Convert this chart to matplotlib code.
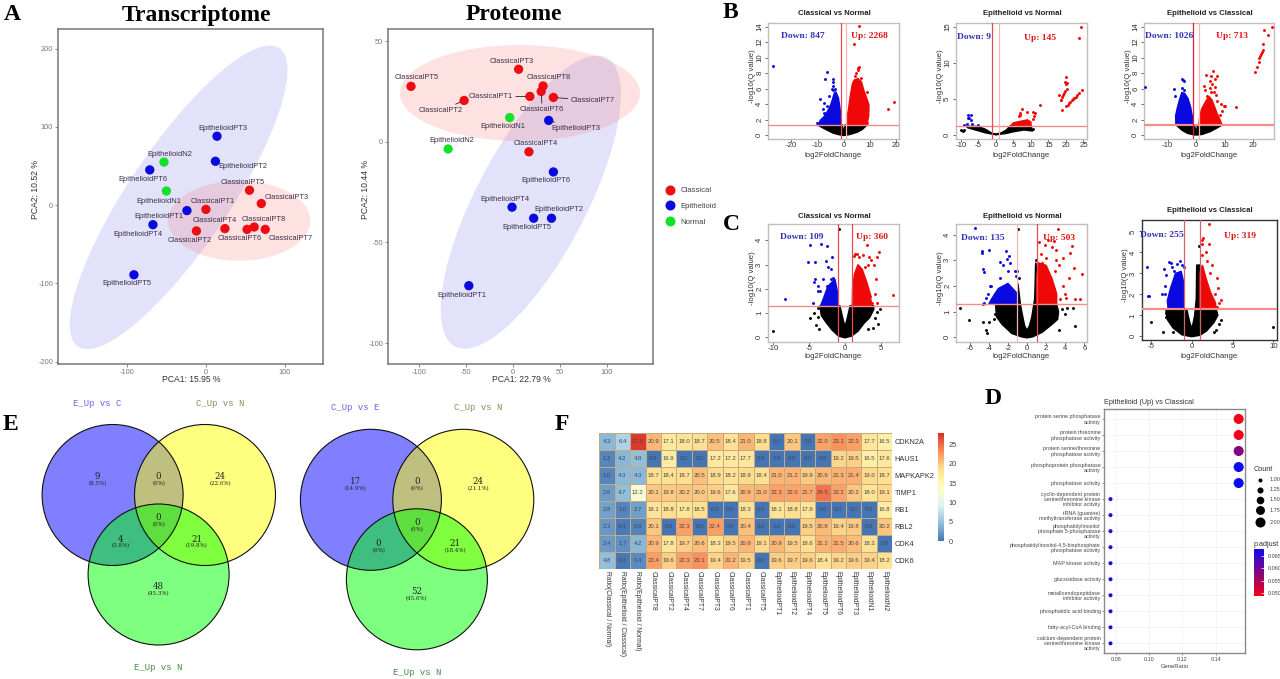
import numpy as np
import matplotlib
matplotlib.use('Agg')
import matplotlib.pyplot as plt
from matplotlib.colors import LinearSegmentedColormap
from matplotlib.lines import Line2D
from matplotlib.patches import Ellipse

plt.rcParams['font.family'] = ['Liberation Sans', 'DejaVu Sans']
plt.rcParams['axes.unicode_minus'] = False

W, H = 1280, 679

# === PCA data ===
pca_names = ['ClassicalPT1', 'ClassicalPT2', 'ClassicalPT3', 'ClassicalPT4', 'ClassicalPT5',
             'ClassicalPT6', 'ClassicalPT7', 'ClassicalPT8', 'EpithelioidPT1', 'EpithelioidPT2',
             'EpithelioidPT3', 'EpithelioidPT4', 'EpithelioidPT5', 'EpithelioidPT6',
             'EpithelioidN1', 'EpithelioidN2']
pca_group = ['C'] * 8 + ['E'] * 6 + ['N'] * 2
rna_x = [0, -12, 70, 24, 55, 52, 75, 61, -24, 12, 14, -67, -91, -71, -50, -53]
rna_y = [-5.5, -33, 2, -30, 19, -31, -31, -28, -7, 56, 88, -25, -89, 45, 18, 55]
prot_x = [18, -52, 6, 17, -108.5, 30, 43, 32, -47, 41, 38, -1, 22, 43, -3.5, -69]
prot_y = [22.5, 20.5, 36, -5, 27.5, 25, 22, 27.7, -71.5, -38, 10.6, -32.5, -38, -15, 12, -3.6]

# === Volcano data: dense clouds as outlines, plus single points ===
b1_black = [(-10, 1.3), (-.5, 1.3), (-.2, .6), (0, .3), (.2, .6), (.5, 1.3), (9, 1.3), (7, .7), (5, .35), (2, .05), (0, -.05), (-1.5, .03), (-4, .25), (-7, .75)]
b1_blue = [(-1, 1.3), (-1.1, 2.5), (-1.5, 3.7), (-2, 4.8), (-3, 5.6), (-3.6, 5.4), (-4.3, 4.6), (-5, 3.9), (-6, 3.2), (-7.5, 2.4), (-9, 1.9), (-9.8, 1.3)]
b1_red = [(1, 1.3), (1.3, 2.2), (1.9, 3.5), (2.5, 5), (3.3, 6.6), (4, 7.1), (5.5, 7.3), (6.8, 6.9), (7.8, 5.7), (9, 4.6), (9.7, 3.9), (9.6, 2.5), (8.9, 1.3)]
b1_blue_pts = [(-27, 8.9), (-6.4, 8.1), (-7, 7.3), (-4, 7.3), (-4.2, 6.8), (-4, 6.4), (-4.5, 6), (-4, 5.8), (-9, 4.7), (-7.5, 4.2), (-8, 3.4), (-6.5, 3.7), (-7.5, 2.8), (-10.3, 1.6), (-9.5, 1.5), (-5.5, 5.1), (-3.5, 6)]
b1_red_pts = [(5.7, 14.1), (4, 11.8), (5.8, 8.8), (5.3, 8.7), (5.5, 8.4), (4.8, 8), (17, 3.4), (19.2, 4.3), (9, 5.6), (8.8, 1.6), (6.7, 7.4), (4.2, 7.6)]
b1_black_pts = []

b2_black = [(-8.5, 1.2), (-5, 1.2), (-3, .8), (-1, .2), (0, .15), (1.5, .3), (3, .7), (4, 1.25), (6, 1.3), (10, 1.3), (10.5, .55), (8, .7), (5, .45), (3, .22), (0, .03), (-3, .3), (-8, 1)]
b2_blue = []
b2_red = [(4.2, 1.3), (5, 1.7), (7, 1.9), (9, 2.1), (10, 1.8), (10, 1.3)]
b2_blue_pts = [(-8, 2.8), (-7, 2.8), (-7.6, 2.4), (-8, 2.3), (-7, 2.1), (-6.7, 1.5), (-8.3, 1.5), (-5, 1.4), (-9, 1.4)]
b2_red_pts = [(7, 3), (7.5, 3.6), (7, 2.8), (6.5, 2.6), (9, 3.2), (10.5, 3.2), (11, 2.7), (10.5, 2.2), (11.2, 3), (12.5, 4.1), (24.3, 15), (23.8, 13.4), (19, 3.4), (20, 8), (19.8, 7.4), (19.9, 7), (20.2, 7.2), (18, 5.6), (18.5, 4.9), (24.6, 6.2),
              (18.6, 4.9), (18.9, 5.2), (19.2, 5.5), (19.5, 5.8), (19.8, 6.1), (20.2, 6.4),
              (20.1, 4), (20.5, 4.2), (20.9, 4.4), (21.2, 4.6), (21.6, 4.8), (22, 4.95), (22.4, 5.1), (22.8, 5.3), (23.2, 5.55), (23.6, 5.75)]
b2_black_pts = [(-10, .7), (-9.5, .6), (10.7, .8), (-9, .65)]

b3_black = [(-7, 1.3), (-.5, 1.3), (-.2, .6), (0, .3), (.2, .6), (.5, 1.3), (9.2, 1.3), (7, .85), (5, .45), (2, .08), (.5, .02), (-.5, .02), (-3, .22), (-5, .65)]
b3_blue = [(-1, 1.3), (-1.3, 2.4), (-1.9, 3.6), (-2.8, 4.7), (-4, 5.4), (-5, 5.5), (-5.8, 4.6), (-6.6, 3.5), (-7.2, 2.5), (-7.1, 1.3)]
b3_red = [(1, 1.3), (1.3, 2.5), (2, 3.4), (3, 4.1), (4.5, 5), (5.5, 4.6), (6.5, 3.7), (7.5, 2.7), (8.5, 1.9), (9.2, 1.3)]
b3_blue_pts = [(-18, 6.2), (-7.7, 5.9), (-5, 7.3), (-4.6, 7.1), (-4.3, 7), (-5, 6.1), (-4.4, 5.8), (-7.4, 5)]
b3_red_pts = [(6, 8.3), (3.4, 7.7), (5.4, 7.6), (7.3, 7.6), (6.5, 7.2), (5, 7), (5.6, 6.6), (4.8, 6.1), (6.5, 6.2), (2.9, 6.3), (3.2, 5.8), (5.2, 5.5), (6.3, 5.5), (7, 5.2), (4, 5), (7.2, 4.4), (8.7, 4), (9.8, 3.8), (10, 3.7), (9, 3.1), (8.5, 2.6), (14, 3.6),
              (26.6, 14), (25.4, 12.9), (24, 13.5), (20.6, 8.2), (21.3, 8.8), (22, 9.4), (22.3, 9.9), (22.6, 10.2), (22.9, 10.4), (23.2, 10.7), (23.4, 11), (23.7, 11.7)]
b3_black_pts = []

c1_black = [(-3.5, 1.3), (-3.3, .9), (-2.6, .6), (-1.8, .3), (-.9, .05), (0, -.02), (.9, .05), (1.8, .25), (2.7, .6), (3.4, .8), (4, 1.15), (4, 1.3), (.7, 1.3), (.4, .9), (.15, .6), (0, .5), (-.15, .6), (-.4, .9), (-.7, 1.3)]
c1_blue = [(-1, 1.3), (-1, 1.8), (-1.4, 2.4), (-2.4, 2.1), (-3, 1.6), (-3.4, 1.3)]
c1_red = [(1, 1.3), (1.05, 2), (1.3, 2.6), (1.8, 3), (2.4, 2.8), (3, 2.3), (3.5, 1.8), (3.7, 1.3)]
c1_blue_pts = [(-8.4, 1.6), (-4.8, 3.8), (-3.3, 3.85), (-2.5, 3.75), (-1.8, 3.3), (-2.6, 3.15), (-5.2, 3.1), (-4.2, 3.1), (-2.3, 2.9), (-2, 2.8), (-4.2, 2.4), (-4.3, 2.3), (-2, 2.4), (-1.6, 2.45), (-3, 2.4), (-3.7, 2.1), (-3.5, 1.9), (-3.8, 1.9), (-4.4, 1.4), (-2.5, 2.1)]
c1_red_pts = [(3, 3.8), (2.5, 3.4), (3.3, 3.3), (3.6, 3.2), (4.7, 3.5), (4.5, 3.3), (4, 3), (3.2, 3), (2.8, 2.9), (4.3, 2.4), (6.6, 1.75), (4.2, 1.8), (3.5, 1.7), (4.5, 1.4), (3.7, 1.4), (2, 3.3), (1.4, 3.45), (1.2, 3.35), (1.7, 3.45)]
c1_black_pts = [(-10, .25), (-.9, 4.45), (-4.3, 1), (-4.9, .8), (-4, .5), (-3.6, .35), (4.9, 1.15), (4.5, 1.05), (4.2, .8), (3.9, .4), (4.6, .55), (3.2, .35), (-3.8, 1.2), (-3.8, .85)]

c2_black = [(-3.3, 1.3), (-3.2, .8), (-2.6, .5), (-1.6, .15), (-.6, .02), (0, -.02), (.6, .02), (1.6, .2), (2.6, .5), (3.2, .7), (3.3, 1), (3.1, 1.28), (1, 1.28), (1, 2.5), (.9, 2.9), (.8, 1.5), (.5, .8), (.25, .45), (0, .27), (-.25, .45), (-.5, .9), (-.7, 1.3), (-.95, 2.1), (-1, 1.3)]
c2_blue = [(-1, 1.3), (-1, 1.7), (-2, 2.1), (-3, 1.9), (-3.7, 1.5), (-4, 1.3)]
c2_red = [(1, 1.3), (1, 2.3), (1.2, 2.9), (2, 2.8), (2.6, 2.3), (3.1, 1.7), (3.1, 1.3)]
c2_blue_pts = [(-5.4, 4.25), (-4.7, 3.35), (-4.75, 3.3), (-4, 3.4), (-2.2, 3.35), (-1.9, 3.15), (-2.1, 3.05), (-2.8, 2.95), (-1.8, 2.9), (-2.5, 2.8), (-1.3, 2.6), (-2, 2.6), (-1.2, 2.4), (-4.6, 2.65), (-4.5, 2.55), (-2.8, 2.3), (-3.8, 2), (-3.9, 2), (-4.1, 1.7), (-4.3, 1.55), (-4.5, 1.35), (-4.6, 1.3), (-3.3, 1.7)]
c2_red_pts = [(3.2, 4.2), (2.8, 3.75), (1.2, 3.7), (1.9, 3.6), (2.6, 3.5), (3, 3.4), (4.7, 3.55), (4.5, 3.3), (3.8, 3.1), (1.5, 3.25), (2, 3.1), (3.3, 2.8), (4.9, 2.7), (5.7, 2.45), (4.4, 2.3), (3.8, 2), (4, 1.7), (5, 1.5), (5.5, 1.5), (3.4, 1.5), (4.1, 1.55), (2.2, 3.8), (3, 3), (1.6, 2.9), (2.9, 2.6)]
c2_black_pts = [(-7, 1.15), (-6.1, .67), (-4.6, .6), (-4, .6), (-4.3, .3), (-4.2, .15), (5, .45), (4.8, 1.15), (4.2, 1.15), (3.7, 1.1), (4, .9), (3.3, .3), (-3.4, .9), (-3.5, .7), (-.8, 2.3), (-1, 2.6), (-.9, 4.2), (.9, 3)]

c3_black = [(-3.2, 1.3), (-3, .8), (-2.3, .4), (-1.2, .07), (0, -.02), (1, .05), (1.8, .25), (2.7, .65), (3.2, 1), (3, 1.3), (1, 1.3), (1, 3.4), (.6, 3.4), (.55, 1.8), (.35, 1), (.15, .6), (0, .4), (-.2, .6), (-.45, 1), (-.6, 1.3)]
c3_blue = [(-1, 1.3), (-1, 2.6), (-1.3, 3.1), (-2, 3), (-2.6, 2.3), (-3, 1.7), (-2.9, 1.3)]
c3_red = [(1, 1.3), (1, 3), (1.3, 3.4), (1.8, 2.7), (2.3, 2.1), (2.9, 1.6), (3, 1.3)]
c3_blue_pts = [(-5.5, 3.3), (-5.4, 1.9), (-5.2, 1.9), (-3.6, 2), (-3.3, 2), (-3.3, 2.4), (-3.4, 3.2), (-3.1, 2.9), (-2.8, 3.55), (-2.5, 3.5), (-2.4, 3.3), (-1.8, 3.45), (-1.5, 3.6), (-1.2, 3.4), (-1, 3.3), (-2.2, 3.1)]
c3_red_pts = [(2.1, 5.35), (1.4, 4.7), (1.2, 4.4), (2.1, 4.4), (1.7, 4), (1.2, 3.9), (1.9, 3.6), (2.5, 3.4), (3.1, 2.8), (2.2, 3), (3.6, 1.75), (3.3, 1.6), (3.2, 2.3), (3.1, 1.4), (2.8, 2), (1.3, 4.6)]
c3_black_pts = [(9.9, .45), (-5, .7), (-3.5, .22), (-3.1, 1.1), (-3.2, .9), (3.6, .8), (3, .3), (2.7, .2), (3.3, .6), (-2.3, .2), (.85, 4.3)]

volcano_titles = ['Classical vs Normal', 'Epithelioid vs Normal', 'Epithelioid vs Classical']
b_down = ['Down: 847', 'Down: 9', 'Down: 1026']
b_up = ['Up: 2268', 'Up: 145', 'Up: 713']
c_down = ['Down: 109', 'Down: 135', 'Down: 255']
c_up = ['Up: 360', 'Up: 503', 'Up: 319']

# === Venn counts ===
venn1_counts = ['9', '0', '24', '0', '4', '21', '48']
venn1_pcts = ['(8.5%)', '(0%)', '(22.6%)', '(0%)', '(3.8%)', '(19.8%)', '(45.3%)']
venn2_counts = ['17', '0', '24', '0', '0', '21', '52']
venn2_pcts = ['(14.9%)', '(0%)', '(21.1%)', '(0%)', '(0%)', '(18.4%)', '(45.6%)']

# === Heatmap values ===
heat_rows = ['CDKN2A', 'HAUS1', 'MAPKAPK2', 'TIMP1', 'RB1', 'RBL2', 'CDK4', 'CDK6']
heat_cols = ['Ratio(Classical / Normal)', 'Ratio(Epithelioid / Classical)', 'Ratio(Epithelioid / Normal)',
             'ClassicalPT8', 'ClassicalPT2', 'ClassicalPT4', 'ClassicalPT7', 'ClassicalPT3', 'ClassicalPT6',
             'ClassicalPT1', 'ClassicalPT5', 'EpithelioidPT1', 'EpithelioidPT2', 'EpithelioidPT4',
             'EpithelioidPT5', 'EpithelioidPT6', 'EpithelioidPT3', 'EpithelioidN1', 'EpithelioidN2']
cdkn2a = [4.3, 6.4, 27.5, 20.9, 17.1, 18.0, 18.7, 20.5, 18.4, 21.0, 18.8, 0.0, 20.1, 0.0, 22.0, 23.1, 22.3, 17.7, 16.5]
haus1 = [1.2, 4.2, 4.8, 0.0, 16.9, 0.0, 0.0, 17.2, 17.2, 17.7, 0.0, 0.0, 0.0, 0.0, 0.0, 19.2, 19.5, 16.5, 17.6]
mapkapk2 = [1.0, 4.3, 4.3, 18.7, 18.4, 18.7, 20.5, 18.9, 18.2, 18.9, 18.4, 21.0, 21.2, 19.9, 20.9, 21.3, 21.4, 19.0, 18.7]
timp1 = [2.6, 4.7, 12.2, 20.1, 19.8, 20.2, 20.0, 19.6, 17.6, 20.9, 21.0, 22.3, 22.0, 21.7, 24.5, 22.2, 20.2, 18.0, 19.1]
rb1 = [2.8, 1.0, 2.7, 18.1, 18.8, 17.8, 18.5, 0.0, 0.0, 18.3, 0.0, 18.1, 18.8, 17.9, 0.0, 0.0, 0.0, 0.0, 16.8]
rbl2 = [2.2, 0.4, 0.9, 20.1, 0.0, 22.3, 0.0, 22.4, 0.0, 20.4, 0.0, 0.0, 0.0, 19.5, 20.8, 19.4, 19.8, 0.0, 20.2]
cdk4 = [2.4, 1.7, 4.2, 20.9, 17.8, 19.7, 20.6, 18.3, 19.5, 20.9, 19.1, 20.9, 19.5, 18.6, 21.2, 21.5, 20.6, 18.3, 0.0]
cdk6 = [4.8, 0.3, 1.4, 22.4, 19.6, 22.3, 23.1, 19.4, 21.2, 19.5, 0.0, 19.6, 19.7, 19.6, 18.4, 19.2, 19.6, 19.4, 18.2]

# === GO dot plot ===
go_terms = ['protein serine phosphatase\nactivity', 'protein threonine\nphosphatase activity',
            'protein serine/threonine\nphosphatase activity', 'phosphoprotein phosphatase\nactivity',
            'phosphatase activity', 'cyclin-dependent protein\nserine/threonine kinase\ninhibitor activity',
            'tRNA (guanine)\nmethyltransferase activity', 'phosphatidylinositol\nphosphate 5-phosphatase\nactivity',
            'phosphatidylinositol-4,5-bisphosphate\nphosphatase activity', 'MAP kinase activity',
            'glucosidase activity', 'metalloendopeptidase\ninhibitor activity', 'phosphatidic acid binding',
            'fatty-acyl-CoA binding', 'calcium-dependent protein\nserine/threonine kinase\nactivity']
go_ratio = [0.1538] * 5 + [0.0769] * 10
go_count = [2] * 5 + [1] * 10
go_padj = [0.0487, 0.0487, 0.058, 0.0677, 0.0677] + [0.0677] * 10
count_levels = [1.00, 1.25, 1.50, 1.75, 2.00]

fig = plt.figure(figsize=(W / 100, H / 100), dpi=100, facecolor='white')


def px_axes(x0, y0, x1, y1):
    return fig.add_axes([x0 / W, 1 - y1 / H, (x1 - x0) / W, (y1 - y0) / H])


overlay = fig.add_axes([0, 0, 1, 1], zorder=20)
overlay.set_xlim(0, W)
overlay.set_ylim(H, 0)
overlay.axis('off')
overlay.patch.set_alpha(0)


def px_text(x, y, s, **kw):
    kw.setdefault('ha', 'center')
    kw.setdefault('va', 'center')
    overlay.text(x, y, s, **kw)


# --- panel letters and big titles
for letter, lx, ly in [('A', 12, 14), ('B', 730, 13), ('C', 731, 225), ('D', 993, 398), ('E', 10, 424), ('F', 562, 425)]:
    px_text(lx, ly, letter, family='Liberation Serif', fontweight='bold', fontsize=17)
px_text(196, 15, 'Transcriptome', family='Liberation Serif', fontweight='bold', fontsize=17)
px_text(514, 15, 'Proteome', family='Liberation Serif', fontweight='bold', fontsize=17)

group_colors = {'C': '#ee0c12', 'E': '#0a0ae0', 'N': '#14e02c'}
PINK, LAV = '#fb6a6a', '#6f6fe8'


def pca_panel(box, xlim, ylim, xs, ys, offsets, leaders, ell_blue, ell_red, xticks, yticks, xlab, ylab):
    ax = px_axes(*box)
    ax.set_xlim(xlim)
    ax.set_ylim(ylim)
    sx = (box[2] - box[0]) / (xlim[1] - xlim[0])
    sy = (box[3] - box[1]) / (ylim[1] - ylim[0])
    for (cx, cy, a, b, ang), col, alpha in [(ell_blue, LAV, 0.2), (ell_red, PINK, 0.2)]:
        t = np.linspace(0, 2 * np.pi, 200)
        th = np.radians(ang)
        ex = cx + (a * np.cos(t) * np.cos(th) - b * np.sin(t) * np.sin(th)) / sx
        ey = cy + (a * np.cos(t) * np.sin(th) + b * np.sin(t) * np.cos(th)) / sy
        ax.fill(ex, ey, color=col, alpha=alpha, lw=0)
    cols = [group_colors[g] for g in pca_group]
    ax.scatter(xs, ys, c=cols, s=45, lw=0, zorder=3)
    for i, name in enumerate(pca_names):
        arrow = dict(arrowstyle='-', lw=0.6, color='#222222', shrinkA=0, shrinkB=3) if name in leaders else None
        ax.annotate(name, (xs[i], ys[i]), xytext=offsets[i], textcoords='offset pixels', ha='center', va='center',
                    fontsize=5.4, color='#3a3048', arrowprops=arrow, zorder=4)
    ax.set_xticks(xticks)
    ax.set_yticks(yticks)
    ax.tick_params(labelsize=5.3, colors='#777777', length=2, width=0.6, pad=1.5)
    for s in ax.spines.values():
        s.set_color('#777777')
        s.set_linewidth(1.1)
    px_text((box[0] + box[2]) / 2 + 1, 380, xlab, fontsize=6.2, color='#333333')
    px_text(box[0] - 23, (box[1] + box[3]) / 2 - 7, ylab, fontsize=6.2, color='#333333', rotation=90)
    return ax


rna_off = [(7, 8), (-7, -10), (25, 6), (-10, 8), (-7, 8), (-7, -9), (25, -9), (10, 8), (-28, -6), (27, -5), (6, 8), (-15, -10), (-7, -9), (-7, -10), (-7, -10), (6, 8)]
prot_off = [(-39, 0), (-23, -10), (-7, 8), (7, 8), (6, 9), (1, -18), (39, -3), (6, 8), (-7, -10), (7, 9), (27, -8), (-7, 8), (-7, -9), (-7, -9), (-7, -9), (4, 8)]

pca_panel((58, 29, 323, 364), (-187, 148), (-203, 225), rna_x, rna_y, rna_off, [],
          (-34.5, 10, 180, 50, 56), (42, -20, 71, 40, 0), [-100, 0, 100], [-200, -100, 0, 100, 200],
          'PCA1: 15.95 %', 'PCA2: 10.52 %')
pca_panel((388, 29, 653, 364), (-133, 149), (-110.4, 56), prot_x, prot_y, prot_off,
          ['ClassicalPT1', 'ClassicalPT2', 'ClassicalPT6', 'ClassicalPT7', 'EpithelioidPT3'],
          (19, -30, 163, 55, 62.3), (7.4, 24.2, 120, 48, 0), [-100, -50, 0, 50, 100], [-100, -50, 0, 50],
          'PCA1: 22.79 %', 'PCA2: 10.44 %')

handles = [Line2D([], [], marker='o', ls='', ms=7.2, mew=0, color=group_colors[g]) for g in 'CEN']
fig.legend(handles, ['Classical', 'Epithelioid', 'Normal'], loc='upper left', bbox_to_anchor=(655.5 / W, 1 - 180 / H),
           frameon=False, fontsize=5.6, labelspacing=1.05, handletextpad=0.3, labelcolor='#444444')


# --- volcano panels
def volcano(box, xlim, ylim, xticks, yticks, black, blue, red, black_pts, blue_pts, red_pts,
            title, title_y, down, up, down_pos, up_pos, vcols, frame='#c4bcbc', xlabel_y=154.5, hline_lw=1.0):
    ax = px_axes(*box)
    ax.set_xlim(xlim)
    ax.set_ylim(ylim)
    for poly, col in [(black, 'black'), (blue, '#0a0ae0'), (red, '#f00808')]:
        if poly:
            arr = np.array(poly)
            ax.fill(arr[:, 0], arr[:, 1], color=col, lw=1.0, zorder=2)
    for pts, col in [(black_pts, 'black'), (blue_pts, '#0a0ae0'), (red_pts, '#f00808')]:
        if pts:
            arr = np.array(pts)
            ax.scatter(arr[:, 0], arr[:, 1], s=4.5, color=col, lw=0, zorder=3)
    ax.axhline(1.3, color='#f48c8c', lw=hline_lw, zorder=4)
    ax.axvline(-1, color=vcols[0], lw=0.9, zorder=4)
    ax.axvline(1, color=vcols[1], lw=0.9, zorder=4)
    ax.set_xticks(xticks)
    ax.set_yticks(yticks)
    ax.tick_params(labelsize=5.6, colors='#333333', length=2, width=0.5, pad=1.5)
    ax.tick_params(axis='x', pad=0.3)
    ax.tick_params(axis='y', labelrotation=90)
    for lab in ax.get_yticklabels():
        lab.set_va('center')
    for s in ax.spines.values():
        s.set_color(frame)
        s.set_linewidth(1.0)
    cx = (box[0] + box[2]) / 2
    px_text(cx + 0.5, title_y, title, fontsize=5.6, fontweight='bold', color='#222222')
    px_text(cx, xlabel_y, 'log2FoldChange', fontsize=5.6, color='#333333')
    px_text(box[0] - 16, (box[1] + box[3]) / 2 - 5, '-log10(Q value)', fontsize=5.6, color='#333333', rotation=90)
    px_text(down_pos[0], down_pos[1], down, family='Liberation Serif', fontweight='bold', fontsize=6.8, color='#3232b8')
    px_text(up_pos[0], up_pos[1], up, family='Liberation Serif', fontweight='bold', fontsize=6.8, color='#e01414')


RED, PALE = '#e84a50', '#f8b4b4'
volcano((768, 22.7, 899, 139), (-29, 21.2), (-.5, 14.5), [-20, -10, 0, 10, 20], range(0, 15, 2),
        b1_black, b1_blue, b1_red, b1_black_pts, b1_blue_pts, b1_red_pts, volcano_titles[0], 13.7,
        b_down[0], b_up[0], (803, 36), (869, 36), (RED, PALE), xlabel_y=155.5)
volcano((956, 22.7, 1087, 139), (-11.4, 26), (-.55, 15.55), [-10, -5, 0, 5, 10, 15, 20, 25], [0, 5, 10, 15],
        b2_black, b2_blue, b2_red, b2_black_pts, b2_blue_pts, b2_red_pts, volcano_titles[1], 13.7,
        b_down[1], b_up[1], (973.6, 37.3), (1040, 38), (RED, PALE), xlabel_y=155.5)
volcano((1144, 22.7, 1274, 139), (-18.3, 27.4), (-.5, 14.5), [-10, 0, 10, 20], range(0, 15, 2),
        b3_black, b3_blue, b3_red, b3_black_pts, b3_blue_pts, b3_red_pts, volcano_titles[2], 13.7,
        b_down[2], b_up[2], (1169, 36), (1232.5, 36), ('#d82030', PALE), xlabel_y=155.5, hline_lw=1.6)
volcano((768, 224.3, 899, 341.7), (-10.7, 7.5), (-.18, 4.66), [-10, -5, 0, 5], [0, 1, 2, 3, 4],
        c1_black, c1_blue, c1_red, c1_black_pts, c1_blue_pts, c1_red_pts, volcano_titles[0], 216,
        c_down[0], c_up[0], (802, 237.3), (872, 237.3), (RED, RED), xlabel_y=357)
volcano((956, 224.3, 1087, 341.7), (-7.43, 6.27), (-.17, 4.4), [-6, -4, -2, 0, 2, 4, 6], [0, 1, 2, 3, 4],
        c2_black, c2_blue, c2_red, c2_black_pts, c2_blue_pts, c2_red_pts, volcano_titles[1], 216,
        c_down[1], c_up[1], (983, 237.7), (1059, 237.7), (PALE, RED), xlabel_y=357)
volcano((1141.5, 219.7, 1277, 340.3), (-6.16, 10.44), (-.19, 5.56), [-5, 0, 5, 10], [0, 1, 2, 3, 4, 5],
        c3_black, c3_blue, c3_red, c3_black_pts, c3_blue_pts, c3_red_pts, volcano_titles[2], 210.7,
        c_down[2], c_up[2], (1162, 235), (1240, 235.5), ('#d86068', '#d86068'), frame='#333333', xlabel_y=357, hline_lw=1.6)


# --- venn diagrams
venn_offs = [(-15.4, -18.7), (46, -18.7), (107.4, -18.7), (46, 22.7), (7.7, 44), (84.2, 44), (46, 91.7)]


def venn(bx, by, counts, pcts, tl, tr, bt):
    yx, gx, gy = bx + 92.4, bx + 46, by + 79.5
    circles = [(bx, by, (0, 0, 1, .5)), (yx, by, (1, 1, 0, .5)), (gx, gy, (0, 1, 0, .5))]
    for cx, cy, col in circles:
        overlay.add_patch(Ellipse((cx, cy), 141, 141, fc=col, ec='none'))
    for cx, cy, col in circles:
        overlay.add_patch(Ellipse((cx, cy), 141, 141, fc='none', ec='#101010', lw=0.8))
    for (dx, dy), n, p in zip(venn_offs, counts, pcts):
        px_text(bx + dx, by + dy, n, family='DejaVu Serif', fontsize=6.2, color='#222222')
        px_text(bx + dx, by + dy + 7, p, family='DejaVu Serif', fontsize=4, color='#222222')
    px_text(bx - 15.4, by - 92, tl, family='Liberation Mono', fontsize=6.4, color='#6464e0')
    px_text(yx + 15, by - 92, tr, family='Liberation Mono', fontsize=6.4, color='#8c8c58')
    px_text(gx, gy + 93.5, bt, family='Liberation Mono', fontsize=6.4, color='#3f8f3f')


venn(112.6, 495, venn1_counts, venn1_pcts, 'E_Up vs C', 'C_Up vs N', 'E_Up vs N')
venn(370.9, 499.8, venn2_counts, venn2_pcts, 'C_Up vs E', 'C_Up vs N', 'E_Up vs N')

# --- heatmap
heat = np.array([cdkn2a, haus1, mapkapk2, timp1, rb1, rbl2, cdk4, cdk6])
pheat = LinearSegmentedColormap.from_list('pheat', ['#4575b4', '#91bfdb', '#e0f3f8', '#ffffbf', '#fee090', '#fc8d59', '#d73027'])
ax_h = px_axes(599.3, 433.3, 892.3, 569)
mesh = ax_h.pcolormesh(heat, cmap=pheat, vmin=0, vmax=28, edgecolors='#c4aa82', linewidth=0.4)
ax_h.set_ylim(8, 0)
ax_h.set_xticks(np.arange(19) + .5)
ax_h.set_xticklabels(heat_cols, rotation=-90, fontsize=4.9, color='#333333', va='top', ha='center')
ax_h.set_yticks(np.arange(8) + .5)
ax_h.set_yticklabels(heat_rows, fontsize=5.3, color='#333333')
ax_h.yaxis.tick_right()
ax_h.tick_params(length=0, pad=1.5)
for s in ax_h.spines.values():
    s.set_visible(False)
for r in range(8):
    for c in range(19):
        ax_h.text(c + .5, r + .5, f'{heat[r, c]:.1f}', ha='center', va='center', fontsize=4.3, color='#45454f')

ax_cb = px_axes(937.7, 432.7, 944.3, 541.3)
cb = fig.colorbar(mesh, cax=ax_cb)
cb.set_ticks([0, 5, 10, 15, 20, 25])
cb.ax.tick_params(labelsize=5.3, length=0, pad=3, colors='#444444')
cb.outline.set_visible(False)

# --- GO dot plot
ax_d = px_axes(1104, 409, 1245, 653.3)
ypos = np.arange(15, 0, -1)
dot_sizes = [8.3 + (c - 1) * 44 for c in go_count]
padj_cmap = LinearSegmentedColormap.from_list('padj', ['#f40018', '#0c0cf0'])
ax_d.scatter(go_ratio, ypos, s=dot_sizes, c=go_padj, cmap=padj_cmap, vmin=0.0487, vmax=0.0677, lw=0, zorder=3)
ax_d.set_xlim(0.073, 0.1576)
ax_d.set_ylim(0.38, 15.62)
ax_d.set_xticks([0.08, 0.10, 0.12, 0.14])
ax_d.set_xticklabels(['0.08', '0.10', '0.12', '0.14'])
ax_d.set_yticks(ypos)
ax_d.set_yticklabels(go_terms, linespacing=1.02)
ax_d.tick_params(labelsize=3.9, colors='#444444', length=1.5, width=0.4, pad=1)
ax_d.grid(True, color='#f0f0f0', lw=0.5)
ax_d.set_axisbelow(True)
for s in ax_d.spines.values():
    s.set_color('#8a8a8a')
    s.set_linewidth(1.0)
px_text(1104, 403, 'Epithelioid (Up) vs Classical', ha='left', fontsize=5.2, color='#333333')
px_text(1174.5, 666, 'GeneRatio', fontsize=4.2, color='#444444')

px_text(1254, 469.7, 'Count', ha='left', fontsize=5.2, color='#333333')
count_ypx = [479.7, 489.7, 499.7, 510, 522]
for lev, yy in zip(count_levels, count_ypx):
    overlay.scatter([1260], [yy], s=8.3 + (lev - 1) * 44, color='black', lw=0)
    px_text(1270, yy, f'{lev:.2f}', ha='left', fontsize=4.0, color='#444444')

px_text(1254, 544, 'p.adjust', ha='left', fontsize=5.2, color='#333333')
ax_p = px_axes(1254.3, 549, 1263.7, 596.3)
grad = np.linspace(0.0487, 0.0677, 100).reshape(-1, 1)
ax_p.imshow(grad, aspect='auto', origin='lower', cmap=padj_cmap, extent=(0, 1, 0.0487, 0.0677))
ax_p.set_xticks([])
ax_p.yaxis.tick_right()
ax_p.set_yticks([0.050, 0.055, 0.060, 0.065])
ax_p.set_yticklabels(['0.050', '0.055', '0.060', '0.065'])
ax_p.tick_params(labelsize=4.0, labelcolor='#444444', color='white', direction='in', length=2, width=0.5, pad=3)
for s in ax_p.spines.values():
    s.set_visible(False)

overlay.set_xlim(0, W)
overlay.set_ylim(H, 0)
fig.savefig('out.png', dpi=100)
